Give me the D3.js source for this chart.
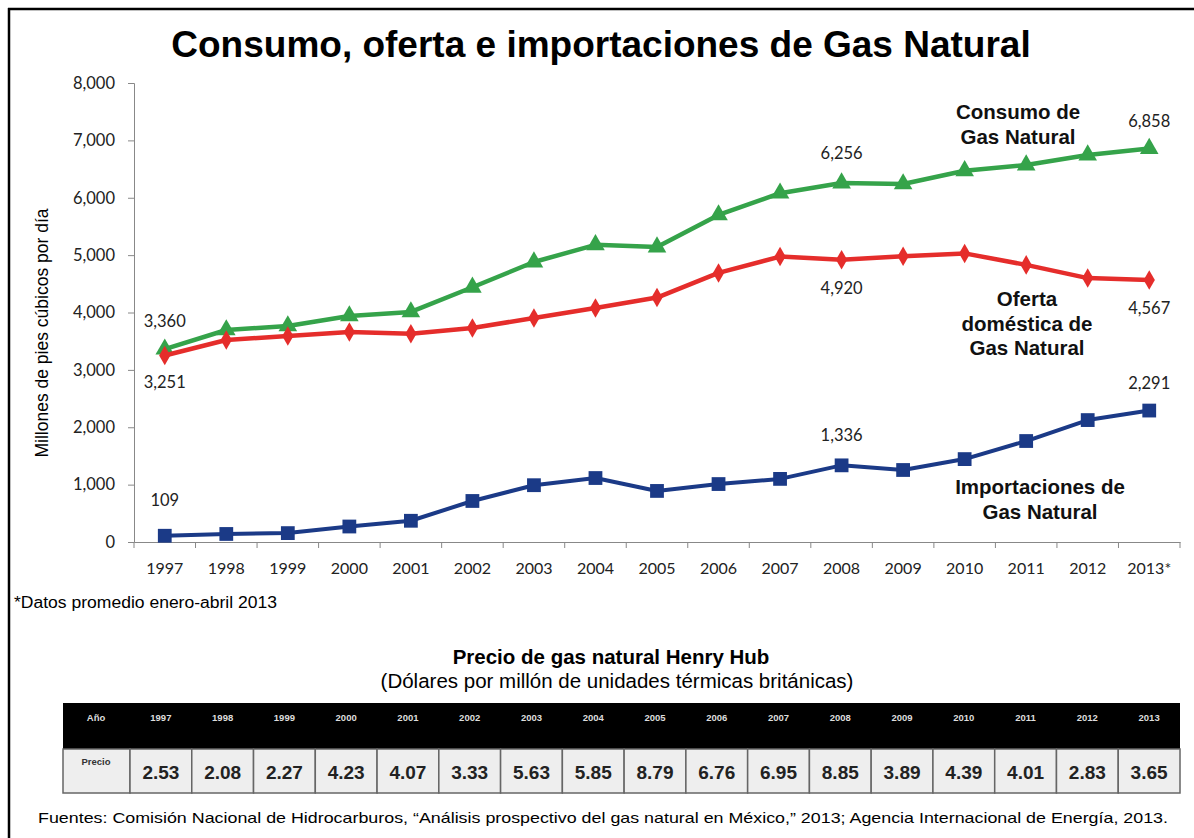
<!DOCTYPE html>
<html>
<head>
<meta charset="utf-8">
<script src="https://cdn.jsdelivr.net/npm/d3@7"></script>
<style>
  body { margin: 0; background: #fff; }
  svg { display: block; }
</style>
</head>
<body>
<script>
// datos (millones de pies cubicos por dia)
var years = ["1997","1998","1999","2000","2001","2002","2003","2004","2005","2006","2007","2008","2009","2010","2011","2012","2013*"];
var consumo = [3360, 3695, 3765, 3940, 4010, 4440, 4880, 5180, 5140, 5700, 6080, 6256, 6240, 6470, 6570, 6745, 6858];
var oferta = [3251, 3520, 3590, 3660, 3630, 3730, 3905, 4080, 4260, 4690, 4975, 4920, 4980, 5030, 4830, 4600, 4567];
var importaciones = [109, 140, 155, 270, 370, 715, 990, 1115, 890, 1010, 1100, 1336, 1255, 1445, 1760, 2125, 2291];
var yTicks = [0, 1000, 2000, 3000, 4000, 5000, 6000, 7000, 8000];

// tabla de precios Henry Hub
var tableYears = ["1997","1998","1999","2000","2001","2002","2003","2004","2005","2006","2007","2008","2009","2010","2011","2012","2013"];
var precios = ["2.53","2.08","2.27","4.23","4.07","3.33","5.63","5.85","8.79","6.76","6.95","8.85","3.89","4.39","4.01","2.83","3.65"];

// etiquetas de datos: [serie, indice, texto, dy]
var labels = [
  [consumo, 0, "3,360", -22], [oferta, 0, "3,251", 33], [importaciones, 0, "109", -30],
  [consumo, 11, "6,256", -24], [oferta, 11, "4,920", 34], [importaciones, 11, "1,336", -24],
  [consumo, 16, "6,858", -22], [oferta, 16, "4,567", 34], [importaciones, 16, "2,291", -22]
];

var W = 1194, H = 838;
var sans = "Liberation Sans, Arial, sans-serif";
var numFont = "Lato, 'Open Sans', sans-serif";

var svg = d3.select("body").append("svg").attr("width", W).attr("height", H);

// marco
svg.append("line").attr("x1", 8).attr("x2", W).attr("y1", 9).attr("y2", 9)
  .attr("stroke", "#000").attr("stroke-width", 2.5);
svg.append("line").attr("x1", 9).attr("x2", 9).attr("y1", 8).attr("y2", H)
  .attr("stroke", "#000").attr("stroke-width", 2.5);

svg.append("text").attr("x", 601).attr("y", 57).attr("text-anchor", "middle")
  .style("font-family", sans).style("font-weight", "bold")
  .style("font-size", "37px").text("Consumo, oferta e importaciones de Gas Natural");

var x = d3.scaleBand().domain(years).range([134, 1180]);
var y = d3.scaleLinear().domain([0, 8000]).range([542, 83]);
var cx = function(i) { return x(years[i]) + x.bandwidth() / 2; };

// eje y
var yAxis = svg.append("g").attr("transform", "translate(134,0)")
  .call(d3.axisLeft(y).tickValues(yTicks).tickFormat(d3.format(",")).tickSizeOuter(0).tickSize(6).tickPadding(13));
yAxis.select(".domain").attr("stroke", "#888");
yAxis.selectAll(".tick line").attr("stroke", "#888").attr("x2", -6);
yAxis.selectAll("text").style("font-family", numFont).style("font-size", "16.5px").attr("fill", "#222");

// eje x
var xAxis = svg.append("g").attr("transform", "translate(0,542)")
  .call(d3.axisBottom(x).tickSize(0).tickPadding(21));
xAxis.select(".domain").attr("stroke", "#888");
xAxis.selectAll("text").style("font-family", numFont).style("font-size", "16px").attr("fill", "#222");
svg.append("g").selectAll("line").data(years.concat(["end"])).enter().append("line")
  .attr("x1", function(d, i) { return 134 + i * x.step(); })
  .attr("x2", function(d, i) { return 134 + i * x.step(); })
  .attr("y1", 542).attr("y2", 548).attr("stroke", "#888");

svg.append("text").attr("transform", "translate(48,333) rotate(-90)").attr("text-anchor", "middle")
  .style("font-family", sans).style("font-size", "17.5px")
  .text("Millones de pies cúbicos por día");

var line = d3.line().x(function(d, i) { return cx(i); }).y(function(d) { return y(d); });

function drawSeries(data, color, width, symbol, size) {
  svg.append("path").datum(data).attr("d", line).attr("fill", "none")
    .attr("stroke", color).attr("stroke-width", width).attr("stroke-linejoin", "round");
  svg.append("g").selectAll("path").data(data).enter().append("path")
    .attr("d", d3.symbol().type(symbol).size(size))
    .attr("transform", function(d, i) { return "translate(" + cx(i) + "," + y(d) + ")"; })
    .attr("fill", color);
}
drawSeries(consumo, "#35a34a", 4.5, d3.symbolTriangle, 150);
drawSeries(oferta, "#e52d2b", 4.5, d3.symbolDiamond, 110);
drawSeries(importaciones, "#1b3a87", 4, d3.symbolSquare, 190);

svg.append("g").selectAll("text").data(labels).enter().append("text")
  .attr("x", function(d) { return cx(d[1]); })
  .attr("y", function(d) { return y(d[0][d[1]]) + d[3]; })
  .attr("text-anchor", "middle")
  .style("font-family", numFont).style("font-size", "16.5px").attr("fill", "#222")
  .text(function(d) { return d[2]; });

// nombres de series
var seriesNames = [
  [1018, 119, ["Consumo de", "Gas Natural"]],
  [1027, 306, ["Oferta", "doméstica de", "Gas Natural"]],
  [1040, 494, ["Importaciones de", "Gas Natural"]]
];
seriesNames.forEach(function(s) {
  var t = svg.append("text").attr("text-anchor", "middle")
    .style("font-family", sans).style("font-weight", "bold")
    .style("font-size", "20.5px").attr("fill", "#111");
  s[2].forEach(function(l, i) {
    t.append("tspan").attr("x", s[0]).attr("y", s[1] + i * 24.5).text(l);
  });
});

svg.append("text").attr("x", 14).attr("y", 608)
  .style("font-family", sans).style("font-size", "16px")
  .attr("textLength", 263).attr("lengthAdjust", "spacingAndGlyphs")
  .text("*Datos promedio enero-abril 2013");

// tabla
svg.append("text").attr("x", 611).attr("y", 664).attr("text-anchor", "middle")
  .style("font-family", sans).style("font-weight", "bold")
  .style("font-size", "20.5px").text("Precio de gas natural Henry Hub");
svg.append("text").attr("x", 617).attr("y", 688).attr("text-anchor", "middle")
  .style("font-family", sans)
  .style("font-size", "20.5px").text("(Dólares por millón de unidades térmicas británicas)");

var tx = d3.scaleBand().domain(tableYears).range([130, 1180]);
svg.append("rect").attr("x", 63).attr("y", 703).attr("width", 1117).attr("height", 46).attr("fill", "#000");
svg.append("rect").attr("x", 63).attr("y", 749).attr("width", 67).attr("height", 44)
  .attr("fill", "#eee").attr("stroke", "#666").attr("stroke-width", 1.5);
svg.append("text").attr("x", 96).attr("y", 721).attr("text-anchor", "middle")
  .style("font-family", sans).style("font-weight", "bold")
  .style("font-size", "9.5px").attr("fill", "#ddd").text("Año");
svg.append("text").attr("x", 96).attr("y", 765).attr("text-anchor", "middle")
  .style("font-family", sans).style("font-weight", "bold")
  .style("font-size", "9.5px").attr("fill", "#333").text("Precio");

var cols = svg.append("g").selectAll("g").data(tableYears).enter().append("g")
  .attr("transform", function(d) { return "translate(" + tx(d) + ",0)"; });
cols.append("text").attr("x", tx.bandwidth() / 2).attr("y", 721).attr("text-anchor", "middle")
  .style("font-family", sans).style("font-weight", "bold")
  .style("font-size", "9.5px").attr("fill", "#ddd").text(function(d) { return d; });
cols.append("rect").attr("x", 0).attr("y", 749).attr("width", tx.bandwidth()).attr("height", 44)
  .attr("fill", "#eee").attr("stroke", "#666").attr("stroke-width", 1.5);
cols.append("text").attr("x", tx.bandwidth() / 2).attr("y", 779).attr("text-anchor", "middle")
  .style("font-family", sans).style("font-weight", "bold")
  .style("font-size", "19px").attr("fill", "#222").text(function(d, i) { return precios[i]; });

svg.append("text").attr("x", 38).attr("y", 823).attr("textLength", 1130).attr("lengthAdjust", "spacingAndGlyphs")
  .style("font-family", sans).style("font-size", "15px")
  .text("Fuentes: Comisión Nacional de Hidrocarburos, \u201CAnálisis prospectivo del gas natural en México,\u201D 2013; Agencia Internacional de Energía, 2013.");
</script>
</body>
</html>
